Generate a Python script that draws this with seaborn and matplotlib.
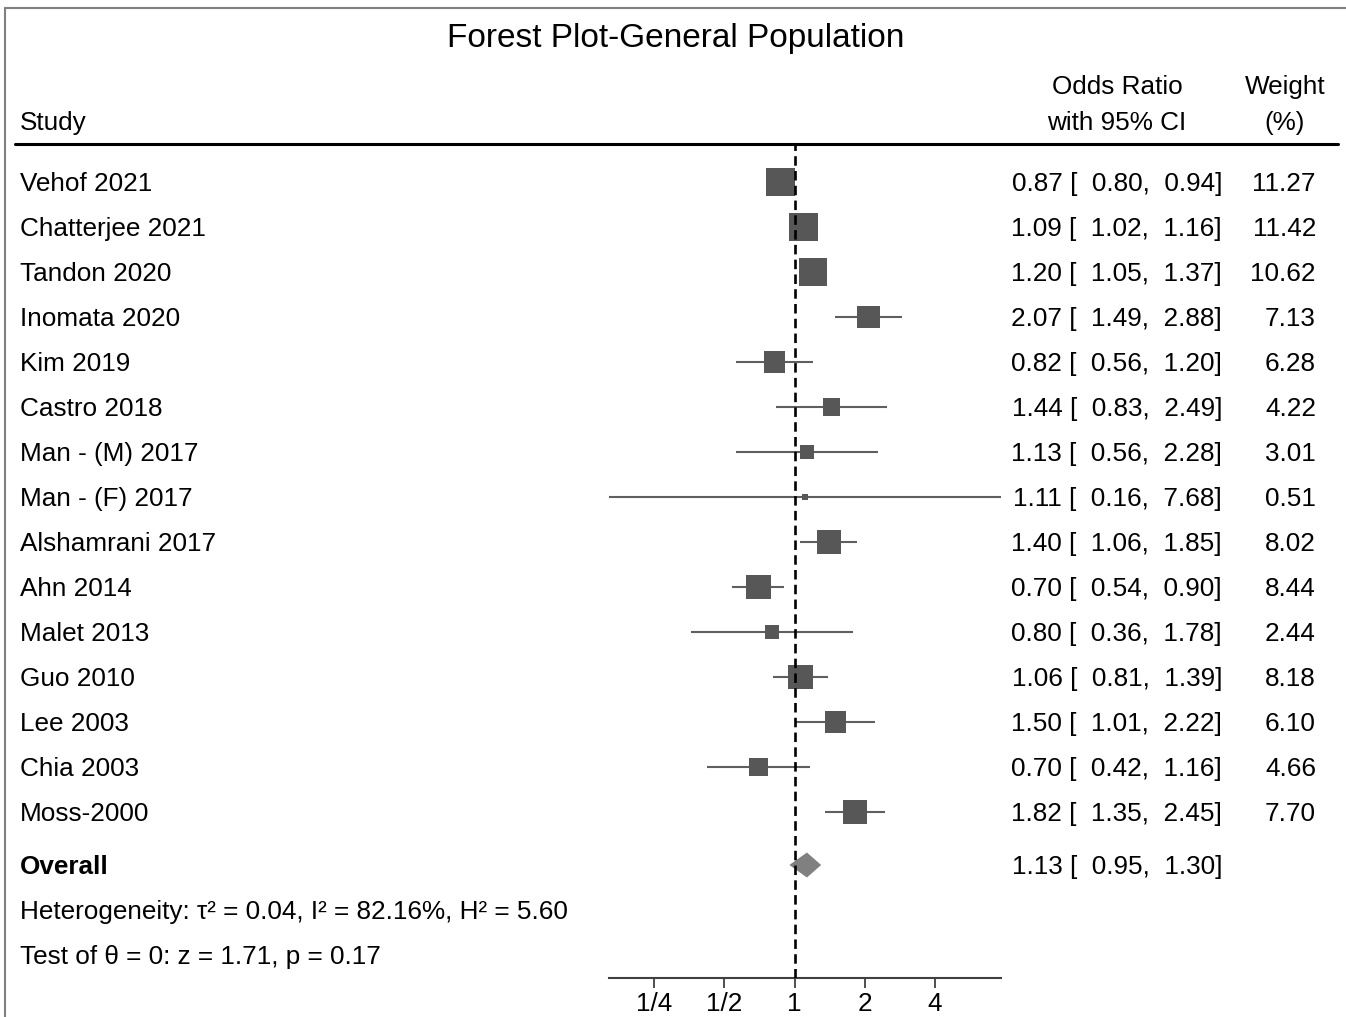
import numpy as np
import pandas as pd
import matplotlib
matplotlib.use("Agg")
import matplotlib.pyplot as plt
import matplotlib.transforms as mtransforms
from matplotlib.lines import Line2D
import seaborn as sns

# data
studies = ["Vehof 2021", "Chatterjee 2021", "Tandon 2020", "Inomata 2020", "Kim 2019",
           "Castro 2018", "Man - (M) 2017", "Man - (F) 2017", "Alshamrani 2017", "Ahn 2014",
           "Malet 2013", "Guo 2010", "Lee 2003", "Chia 2003", "Moss-2000"]
odds = [0.87, 1.09, 1.20, 2.07, 0.82, 1.44, 1.13, 1.11, 1.40, 0.70, 0.80, 1.06, 1.50, 0.70, 1.82]
lower = [0.80, 1.02, 1.05, 1.49, 0.56, 0.83, 0.56, 0.16, 1.06, 0.54, 0.36, 0.81, 1.01, 0.42, 1.35]
upper = [0.94, 1.16, 1.37, 2.88, 1.20, 2.49, 2.28, 7.68, 1.85, 0.90, 1.78, 1.39, 2.22, 1.16, 2.45]
weights = [11.27, 11.42, 10.62, 7.13, 6.28, 4.22, 3.01, 0.51, 8.02, 8.44, 2.44, 8.18, 6.10, 4.66, 7.70]
overall_or = 1.13
overall_lo = 0.95
overall_hi = 1.30
tick_vals = [0.25, 0.5, 1, 2, 4]
tick_labels = ["1/4", "1/2", "1", "2", "4"]
heterogeneity = "Heterogeneity: τ² = 0.04, I² = 82.16%, H² = 5.60"
test_text = "Test of θ = 0: z = 1.71, p = 0.17"

df = pd.DataFrame({"study": studies, "or": odds, "lo": lower, "hi": upper, "w": weights})
df["row"] = np.arange(len(df))

sns.set_theme(style="white")
plt.rcParams["font.family"] = ["Liberation Sans", "DejaVu Sans"]
plt.rcParams["text.color"] = "black"
plt.rcParams["xtick.color"] = "black"

W, H = 1346, 1017
fig = plt.figure(figsize=(W / 100, H / 100), dpi=100)
fs = 18.8

# plot area in pixels: x 609..1001, y 145..978
ax = fig.add_axes([609 / W, 1 - 978 / H, 392 / W, (978 - 145) / H])
ax.set_xscale("log", base=2)
ax.set_xlim(min(lower), max(upper))
row_overall = (865 - 182) / 45
row_het = (910 - 182) / 45
row_test = (955 - 182) / 45
ax.set_ylim((978 - 182) / 45, (145 - 182) / 45)

# CI lines
ax.hlines(df["row"], df["lo"], df["hi"], color="#5f5f5f", lw=1.5, zorder=2)
# weight squares, area proportional to weight
wmin, wmax = min(weights), max(weights)
sns.scatterplot(data=df, x="or", y="row", size="w", sizes=(38 * wmin, 38 * wmax),
                size_norm=(wmin, wmax), marker="s", color="#575757", linewidth=0,
                legend=False, ax=ax, zorder=3)
# overall diamond
dh = 12.5 / 45
ax.fill([overall_lo, overall_or, overall_hi, overall_or],
        [row_overall, row_overall - dh, row_overall, row_overall + dh],
        color="#808080", lw=0, zorder=3)
ax.axvline(1, color="black", lw=1.9, ls=(0, (3.6, 2)), zorder=4)

for s in ["left", "top", "right"]:
    ax.spines[s].set_visible(False)
ax.spines["bottom"].set_color("#404040")
ax.spines["bottom"].set_linewidth(1.5)
ax.set_xticks(tick_vals)
ax.set_xticklabels(tick_labels, fontsize=fs)
ax.minorticks_off()
ax.tick_params(axis="x", direction="out", length=7, width=1.3, color="#404040", pad=3,
               bottom=True, labelcolor="black")
ax.set_yticks([])
ax.set_xlabel("")
ax.set_ylabel("")
ax.patch.set_alpha(0)

# text columns: x in figure pixels, y in data rows
blend = mtransforms.blended_transform_factory(fig.transFigure, ax.transData)
tr = mtransforms.offset_copy(blend, fig=fig, y=-6.7, units="points")

def px(x):
    return x / W

for i, r in df.iterrows():
    ax.text(px(20), r["row"], r["study"], transform=tr, fontsize=fs, ha="left", va="baseline")
    ax.text(px(1222), r["row"], f"{r['or']:.2f} [  {r['lo']:.2f},  {r['hi']:.2f}]",
            transform=tr, fontsize=fs, ha="right", va="baseline")
    ax.text(px(1316), r["row"], f"{r['w']:.2f}", transform=tr, fontsize=fs,
            ha="right", va="baseline")

ax.text(px(20), row_overall, "Overall", transform=tr, fontsize=fs, fontweight="bold",
        ha="left", va="baseline")
ax.text(px(1222), row_overall, f"{overall_or:.2f} [  {overall_lo:.2f},  {overall_hi:.2f}]",
        transform=tr, fontsize=fs, ha="right", va="baseline")
ax.text(px(20), row_het, heterogeneity, transform=tr, fontsize=fs, ha="left", va="baseline")
ax.text(px(20), row_test, test_text, transform=tr, fontsize=fs, ha="left", va="baseline")

# header
def fy(y):
    return 1 - y / H

fig.text(px(676), fy(47), "Forest Plot-General Population", fontsize=24, ha="center",
         va="baseline")
fig.text(px(20), fy(130), "Study", fontsize=fs, ha="left", va="baseline")
fig.text(px(1117), fy(94), "Odds Ratio", fontsize=fs, ha="center", va="baseline")
fig.text(px(1117), fy(130), "with 95% CI", fontsize=fs, ha="center", va="baseline")
fig.text(px(1285), fy(94), "Weight", fontsize=fs, ha="center", va="baseline")
fig.text(px(1285), fy(130), "(%)", fontsize=fs, ha="center", va="baseline")
fig.add_artist(Line2D([px(15), px(1338)], [fy(144), fy(144)], color="black", lw=2.2))

# frame around the picture (top and left edges visible)
fig.add_artist(Line2D([px(5), 1], [fy(8), fy(8)], color="#808080", lw=1.5))
fig.add_artist(Line2D([px(5), px(5)], [fy(8), 0], color="#808080", lw=1.5))

fig.savefig("out.png", dpi=100)
